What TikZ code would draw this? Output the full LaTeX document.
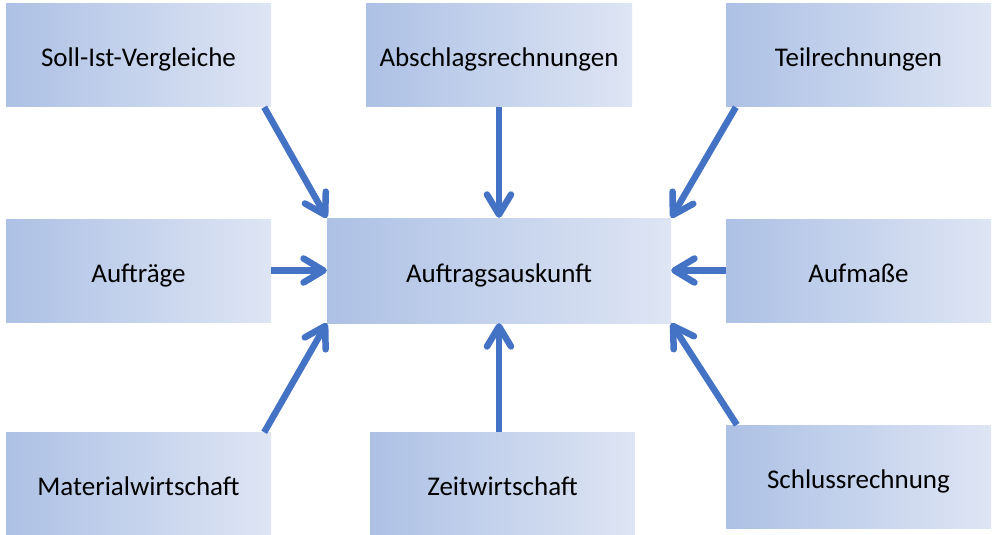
\documentclass[tikz,border=0pt]{standalone}
\usepackage{fontspec}
\setmainfont{Carlito}
\usepackage{tikz}
\usetikzlibrary{arrows.meta}
\definecolor{boxL}{RGB}{173,193,229}
\definecolor{boxR}{RGB}{222,229,244}
\definecolor{flowblue}{RGB}{68,114,196}
\tikzset{
    boxnode/.style = {align=center, inner sep=0pt, text centered, text height=28pt, text depth=5pt, font=\fontsize{27}{32}\selectfont},
    info_node/.style = {boxnode, rectangle, left color=boxL, right color=boxR, minimum width=265pt, minimum height=103pt},
    main_node/.style = {boxnode, rectangle, left color=boxL, right color=boxR, minimum width=344pt, minimum height=105pt},
    flow_arrow/.style = {draw=flowblue, line width=6.5pt, -{Straight Barb[length=20pt, width=24pt, round]}}
}
\begin{document}
\begin{tikzpicture}[x=1pt, y=-1pt]
    \useasboundingbox (0,0) rectangle (997,535);

    \node [main_node] (mid) at (499,270.5) {Auftragsauskunft};

    \node [info_node] (soll) at (138.5,55.5) {Soll-Ist-Vergleiche};
    \node [info_node, minimum width=266pt] (absch) at (499,55.5) {Abschlagsrechnungen};
    \node [info_node] (teil) at (858.5,55.5) {Teilrechnungen};
    \node [info_node] (auft) at (138.5,270.5) {Aufträge};
    \node [info_node] (aufm) at (858.5,270.5) {Aufmaße};
    \node [info_node] (mat) at (138.5,484) {Materialwirtschaft};
    \node [info_node] (zeit) at (502.5,484) {Zeitwirtschaft};
    \node [info_node] (schluss) at (858.5,476.5) {Schlussrechnung};

    \draw [flow_arrow] ([xshift=-7pt]soll.south east) -- (mid.north west);
    \draw [flow_arrow] (absch.south) -- (mid.north);
    \draw [flow_arrow] ([xshift=10pt]teil.south west) -- (mid.north east);
    \draw [flow_arrow] (auft.east) -- (mid.west);
    \draw [flow_arrow] (aufm.west) -- (mid.east);
    \draw [flow_arrow] ([xshift=-7pt]mat.north east) -- (mid.south west);
    \draw [flow_arrow] (zeit.north -| mid.south) -- (mid.south);
    \draw [flow_arrow] ([xshift=11pt]schluss.north west) -- (mid.south east);
\end{tikzpicture}
\end{document}
